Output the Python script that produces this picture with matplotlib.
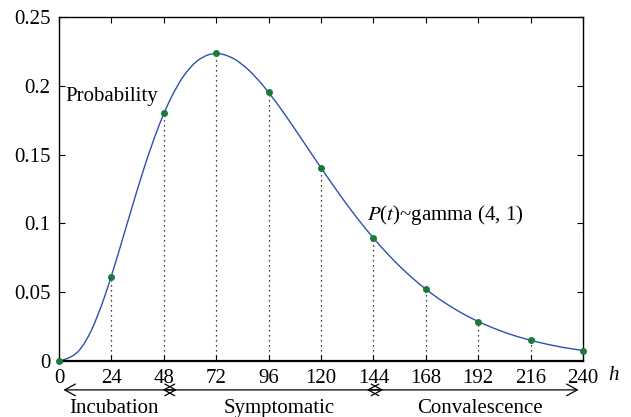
import matplotlib
matplotlib.use("Agg")
import matplotlib.pyplot as plt
from matplotlib.path import Path
from matplotlib.patches import PathPatch

plt.rcParams['font.family'] = ['Liberation Serif', 'DejaVu Serif']
plt.rcParams['mathtext.fontset'] = 'stix'

# marker points (every 24 h)
hours = [0, 24, 48, 72, 96, 120, 144, 168, 192, 216, 240]
prob = [0.0, 0.0613, 0.1804, 0.2240, 0.1954, 0.1404, 0.0892, 0.0521, 0.0286, 0.0150, 0.0076]

# curve every 6 h
curve_h = list(range(0, 241, 6))
curve_p = [0.0, 0.0020, 0.0126, 0.0332, 0.0613, 0.0933, 0.1255, 0.1552,
           0.1804, 0.2001, 0.2138, 0.2216, 0.2240, 0.2218, 0.2158, 0.2067,
           0.1954, 0.1825, 0.1687, 0.1545, 0.1404, 0.1266, 0.1133, 0.1009,
           0.0892, 0.0786, 0.0688, 0.0600, 0.0521, 0.0451, 0.0389, 0.0334,
           0.0286, 0.0245, 0.0208, 0.0177, 0.0150, 0.0127, 0.0107, 0.0090,
           0.0076]

phases = ['Incubation', 'Symptomatic', 'Convalescence']
phase_spans = [(2, 54), (47.5, 148.5), (141, 238)]
phase_label_x = [25, 101, 193]

fs = 15

fig = plt.figure(figsize=(6.31, 4.17), dpi=100)
ax = fig.add_axes([59 / 631, 56 / 417, 524 / 631, 344 / 417])

for h, p in zip(hours[1:], prob[1:]):
    ax.plot([h, h], [0, p], color='black', linestyle=(0, (1, 3)), linewidth=0.9)

# smooth curve: sample points as quadratic bezier control points
pts = list(zip(curve_h, curve_p))
verts = [pts[0]]
codes = [Path.MOVETO]
for i in range(1, len(pts) - 1):
    nxt = pts[i + 1]
    end = nxt if i == len(pts) - 2 else ((pts[i][0] + nxt[0]) / 2, (pts[i][1] + nxt[1]) / 2)
    verts += [pts[i], end]
    codes += [Path.CURVE3, Path.CURVE3]
ax.add_patch(PathPatch(Path(verts, codes), facecolor='none', edgecolor='#2f4fb0',
                       linewidth=1.0))
ax.plot(hours, prob, 'o', color='#1b7a3a', markersize=4, clip_on=False, zorder=5)

ax.set_xlim(0, 240)
ax.set_ylim(0, 0.25)
ax.set_xticks(hours)
ax.set_yticks([0, 0.05, 0.1, 0.15, 0.2, 0.25])
ax.set_yticklabels(['0', '0.05', '0.1', '0.15', '0.2', '0.25'])
ax.tick_params(direction='in', top=True, right=True, length=4, labelsize=fs, pad=6)
for s in ax.spines.values():
    s.set_linewidth(1.0)
ax.spines['bottom'].set_linewidth(1.6)

ax.text(3, 0.192, 'Probability', fontsize=fs, ha='left', va='center')
ax.text(141, 0.106, '$P$($t$)~gamma (4, 1)', fontsize=fs, ha='left', va='center')
ax.text(254, -0.0105, 'h', fontsize=fs, style='italic', ha='center', va='center',
        clip_on=False)

for name, (a, b), lx in zip(phases, phase_spans, phase_label_x):
    ax.annotate('', xy=(b, -0.084), xytext=(a, -0.084),
                xycoords=('data', 'axes fraction'), textcoords=('data', 'axes fraction'),
                arrowprops=dict(arrowstyle='<->,head_length=0.55,head_width=0.3',
                                color='black', linewidth=0.9, mutation_scale=14,
                                shrinkA=0, shrinkB=0))
    ax.text(lx, -0.137, name, fontsize=fs, ha='center', va='center',
            transform=ax.get_xaxis_transform())

fig.savefig('out.png', dpi=100)
